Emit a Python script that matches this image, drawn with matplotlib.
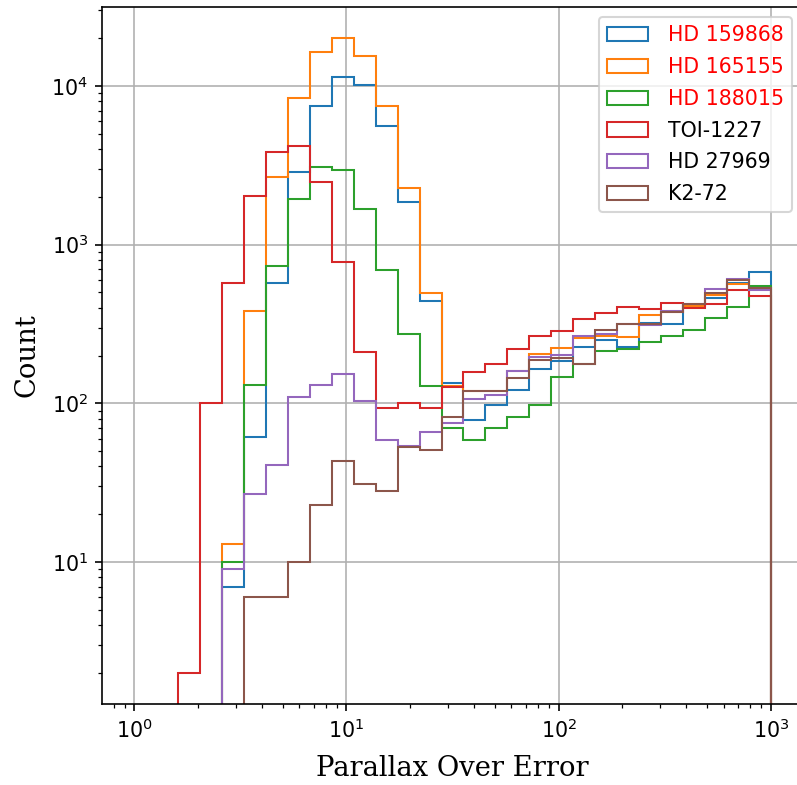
import numpy as np
import matplotlib.pyplot as plt

# 29 log-spaced bins between 1 and 1000
edges = np.logspace(0, 3, 30)

names = ["HD 159868", "HD 165155", "HD 188015", "TOI-1227", "HD 27969", "K2-72"]

hd159868 = [0, 0, 0, 0, 7, 61, 576, 2853, 7520, 11370, 10200, 5570, 1862, 439, 134,
            78, 98, 121, 165, 184, 228, 250, 225, 321, 318, 414, 461, 573, 673]
hd165155 = [0, 0, 0, 0, 13, 381, 2680, 8410, 16400, 20100, 15560, 7520, 2262, 496, 128,
            120, 120, 160, 205, 223, 258, 265, 262, 361, 376, 412, 479, 565, 533]
hd188015 = [0, 0, 0, 0, 10, 130, 734, 1936, 3070, 2965, 1690, 689, 274, 128, 70,
            59, 70, 82, 98, 146, 178, 214, 220, 245, 267, 291, 345, 404, 546]
toi1227 = [0, 0, 2, 100, 576, 2013, 3818, 4168, 2466, 782, 211, 93, 100, 93, 127,
           157, 176, 221, 264, 286, 340, 371, 405, 395, 429, 400, 423, 520, 472]
hd27969 = [0, 0, 0, 0, 9, 27, 41, 109, 130, 154, 104, 59, 54, 66, 75,
           107, 113, 161, 195, 202, 265, 275, 318, 310, 380, 420, 525, 611, 520]
k272 = [0, 0, 0, 0, 0, 6, 6, 10, 23, 43, 31, 28, 53, 51, 82,
        120, 120, 144, 188, 193, 176, 291, 318, 318, 376, 420, 496, 596, 533]

counts = [hd159868, hd165155, hd188015, toi1227, hd27969, k272]
# hosts that get highlighted in the legend
highlight = ["HD 159868", "HD 165155", "HD 188015"]

DPI = 148
fig = plt.figure(figsize=(797 / DPI, 785 / DPI), dpi=DPI)
ax = fig.add_axes([0.1286, 0.1032, 0.8783, 0.8879])

centers = np.sqrt(edges[:-1] * edges[1:])
for c, name in zip(counts, names):
    ax.hist(centers, bins=edges, weights=c, histtype="step", log=True, label=name)

ax.set_xscale("log")
ax.set_xlim(10 ** -0.15, 10 ** 3.15)
ax.set_ylim(10 ** 0.105, 10 ** 4.498)
ax.grid(True)

ax.set_xlabel("Parallax Over Error", family="DejaVu Serif", fontsize=13.3, labelpad=6.5)
ax.set_ylabel("Count", family="DejaVu Serif", fontsize=13.3, labelpad=5.5)

leg = ax.legend(loc="upper right", labelspacing=0.57, handletextpad=0.95)
for t in leg.get_texts():
    if t.get_text() in highlight:
        t.set_color("red")

fig.savefig("out.png", dpi=DPI)
